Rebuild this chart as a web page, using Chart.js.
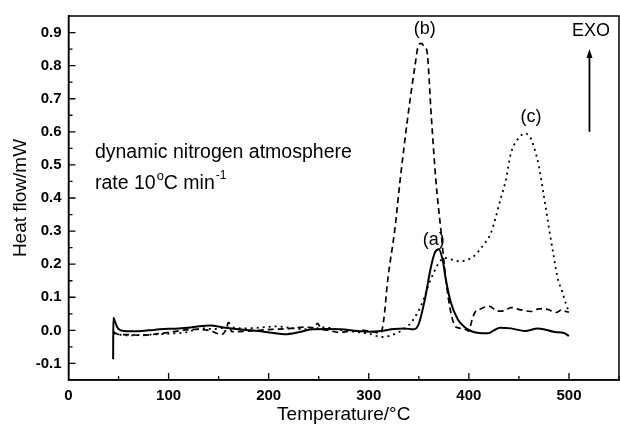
<!DOCTYPE html>
<html>
<head>
<meta charset="utf-8">
<script src="https://cdn.jsdelivr.net/npm/chart.js@4/dist/chart.umd.min.js"></script>
<style>
  html, body { margin: 0; padding: 0; background: #fff; }
  #wrap { width: 620px; height: 426px; position: relative; }
</style>
</head>
<body>
<div id="wrap"><canvas id="grafica"></canvas></div>
<script>
// curva (a) - linea continua
const tempA = [44.6, 44.8, 46, 49, 55, 65, 80, 91, 110, 125, 141, 157, 175, 190, 205, 216, 230, 243, 258, 272, 289, 300, 312, 325, 335, 345, 350, 356, 362, 366, 370, 374, 377, 382, 389, 395, 402, 410, 419, 425, 431, 442, 456, 469, 486, 495, 500];
const heatA = [-0.087, 0.038, 0.03, 0.008, -0.002, -0.003, 0.0, 0.003, 0.006, 0.01, 0.015, 0.008, 0.002, -0.002, -0.008, -0.012, -0.006, 0.003, 0.004, 0.003, -0.002, -0.004, -0.002, 0.004, 0.006, 0.003, 0.02, 0.093, 0.19, 0.235, 0.245, 0.21, 0.154, 0.084, 0.033, 0.012, -0.002, -0.008, -0.009, 0.0, 0.008, 0.006, -0.002, 0.006, -0.005, -0.008, -0.017];

// curva (b) - discontinua
const tempB = [45, 50, 60, 74, 90, 105, 124, 140, 153, 157, 160, 163, 175, 190, 203, 220, 235, 245, 249, 252, 260, 269, 280, 295, 305, 312, 315, 319, 326, 331, 339, 346, 349.5, 352.5, 356, 358, 362.5, 367, 372, 377, 382, 387, 395, 400, 403, 406, 412, 420, 429, 436, 442, 452, 462, 470, 479, 487, 493, 497, 500];
const heatB = [-0.005, -0.012, -0.013, -0.015, -0.01, -0.004, 0.003, 0.0, -0.012, 0.0, 0.024, -0.004, -0.003, 0.0, 0.003, 0.005, 0.01, 0.008, 0.021, 0.006, 0.0, -0.006, -0.003, 0.0, -0.005, -0.008, 0.033, 0.154, 0.304, 0.445, 0.645, 0.796, 0.86, 0.867, 0.855, 0.846, 0.645, 0.455, 0.304, 0.154, 0.054, 0.01, 0.005, -0.002, 0.03, 0.054, 0.065, 0.073, 0.058, 0.06, 0.069, 0.062, 0.057, 0.065, 0.063, 0.054, 0.062, 0.057, 0.055];

// curva (c) - punteada
const tempC = [45, 58, 80, 100, 117, 134, 145, 160, 175, 190, 207, 225, 240, 256, 270, 285, 300, 313, 325, 339, 345, 352, 362, 370, 376, 385, 392, 400, 405, 415, 422, 432, 437, 442, 451, 456, 461, 465, 470, 475, 480, 485, 489, 493, 497, 500];
const heatC = [-0.01, -0.015, -0.013, -0.01, -0.006, 0.006, 0.004, 0.009, 0.006, 0.008, 0.012, 0.006, 0.003, 0.009, 0.002, -0.004, -0.01, -0.02, -0.012, 0.013, 0.035, 0.073, 0.154, 0.204, 0.219, 0.212, 0.209, 0.215, 0.224, 0.26, 0.294, 0.4, 0.455, 0.535, 0.585, 0.595, 0.585, 0.555, 0.495, 0.405, 0.31, 0.22, 0.154, 0.12, 0.08, 0.055];

// ticks de los ejes
const xTicks = [0, 100, 200, 300, 400, 500];
const yTicks = [-0.1, 0.0, 0.1, 0.2, 0.3, 0.4, 0.5, 0.6, 0.7, 0.8, 0.9];

const FONT = '"Liberation Sans", Arial, sans-serif';

function puntos(t, v) {
    return t.map((x, i) => ({ x: x, y: v[i] }));
}

// marco, ticks hacia adentro y anotaciones
const decoracion = {
    id: 'decoracion',
    afterDraw(chart) {
        const ctx = chart.ctx;
        const a = chart.chartArea;
        const xs = chart.scales.x;
        const ys = chart.scales.y;
        ctx.save();
        ctx.strokeStyle = '#000';
        ctx.lineWidth = 1.5;
        ctx.strokeRect(a.left, a.top, a.right - a.left, a.bottom - a.top);

        ctx.lineWidth = 1.3;
        ctx.beginPath();
        for (let v = 50; v <= 550; v += 50) {
            const px = xs.getPixelForValue(v);
            const len = (v % 100 === 0) ? 7 : 4;
            ctx.moveTo(px, a.bottom);
            ctx.lineTo(px, a.bottom - len);
        }
        for (let i = -3; i <= 19; i++) {
            const v = i * 0.05;
            const py = ys.getPixelForValue(v);
            if (py < a.top + 1 || py > a.bottom - 1) continue;
            const len = (i % 2 === 0) ? 7 : 4;
            ctx.moveTo(a.left, py);
            ctx.lineTo(a.left + len, py);
        }
        ctx.stroke();

        // etiquetas de las curvas
        ctx.fillStyle = '#000';
        ctx.textAlign = 'center';
        ctx.textBaseline = 'middle';
        ctx.font = '18px ' + FONT;
        ctx.fillText('(b)', xs.getPixelForValue(356), ys.getPixelForValue(0.912));
        ctx.fillText('(c)', xs.getPixelForValue(462), ys.getPixelForValue(0.645));
        ctx.fillText('(a)', xs.getPixelForValue(365), ys.getPixelForValue(0.274));
        ctx.fillText('EXO', xs.getPixelForValue(522), ys.getPixelForValue(0.904));

        // flecha EXO
        const ax = xs.getPixelForValue(520.5);
        const y1 = ys.getPixelForValue(0.6);
        const y2 = ys.getPixelForValue(0.85);
        ctx.lineWidth = 1.8;
        ctx.beginPath();
        ctx.moveTo(ax, y1);
        ctx.lineTo(ax, y2 + 6);
        ctx.stroke();
        ctx.beginPath();
        ctx.moveTo(ax, y2);
        ctx.lineTo(ax - 3, y2 + 9);
        ctx.lineTo(ax + 3, y2 + 9);
        ctx.closePath();
        ctx.fill();

        // texto de condiciones
        ctx.textAlign = 'left';
        ctx.font = '19.5px ' + FONT;
        const tx = xs.getPixelForValue(26.4);
        ctx.fillText('dynamic nitrogen atmosphere', tx, ys.getPixelForValue(0.536));
        const ty = ys.getPixelForValue(0.443);
        let cx = tx;
        ctx.fillText('rate 10', cx, ty);
        cx += ctx.measureText('rate 10').width + 1;
        ctx.font = '13px ' + FONT;
        ctx.fillText('o', cx, ty - 7);
        cx += ctx.measureText('o').width;
        ctx.font = '19.5px ' + FONT;
        ctx.fillText('C min', cx, ty);
        cx += ctx.measureText('C min').width + 1;
        ctx.font = '12px ' + FONT;
        ctx.fillText('-1', cx, ty - 8);
        ctx.restore();
    }
};

const ctx = document.getElementById('grafica').getContext('2d');
window.myChart = new Chart(ctx, {
    type: 'line',
    data: {
        datasets: [
            {
                label: '(a)',
                data: puntos(tempA, heatA),
                borderColor: '#000',
                borderWidth: 2,
                pointRadius: 0,
                cubicInterpolationMode: 'monotone',
                fill: false
            },
            {
                label: '(b)',
                data: puntos(tempB, heatB),
                borderColor: '#000',
                borderWidth: 1.7,
                borderDash: [6, 4],
                pointRadius: 0,
                cubicInterpolationMode: 'monotone',
                fill: false
            },
            {
                label: '(c)',
                data: puntos(tempC, heatC),
                borderColor: '#000',
                borderWidth: 1.8,
                borderDash: [2, 4],
                pointRadius: 0,
                cubicInterpolationMode: 'monotone',
                fill: false
            }
        ]
    },
    options: {
        responsive: true,
        maintainAspectRatio: false,
        devicePixelRatio: 1,
        animation: false,
        layout: { padding: { top: 14, right: 1, left: 0, bottom: 0 } },
        plugins: {
            legend: { display: false },
            tooltip: { enabled: false }
        },
        scales: {
            x: {
                type: 'linear',
                min: 0,
                max: 550,
                afterFit: (s) => { s.height = 46; },
                afterBuildTicks: (s) => { s.ticks = xTicks.map(v => ({ value: v })); },
                grid: { display: false, drawTicks: false },
                border: { display: true, color: '#000', width: 1.5 },
                ticks: {
                    color: '#000',
                    padding: 7,
                    maxRotation: 0,
                    font: { family: FONT, size: 15, weight: 'bold' },
                    callback: (v) => String(v)
                },
                title: {
                    display: true,
                    text: 'Temperature/°C',
                    color: '#000',
                    font: { family: FONT, size: 19 },
                    padding: { top: 0, bottom: 0 }
                }
            },
            y: {
                type: 'linear',
                min: -0.15,
                max: 0.95,
                afterFit: (s) => { s.width = 68.5; },
                afterBuildTicks: (s) => { s.ticks = yTicks.map(v => ({ value: v })); },
                grid: { display: false, drawTicks: false },
                border: { display: true, color: '#000', width: 1.5 },
                ticks: {
                    color: '#000',
                    padding: 7,
                    font: { family: FONT, size: 15, weight: 'bold' },
                    callback: (v) => Number(v).toFixed(1)
                },
                title: {
                    display: true,
                    text: 'Heat flow/mW',
                    color: '#000',
                    font: { family: FONT, size: 19 },
                    padding: { top: 9, bottom: 0 }
                }
            }
        }
    },
    plugins: [decoracion]
});
</script>
</body>
</html>
